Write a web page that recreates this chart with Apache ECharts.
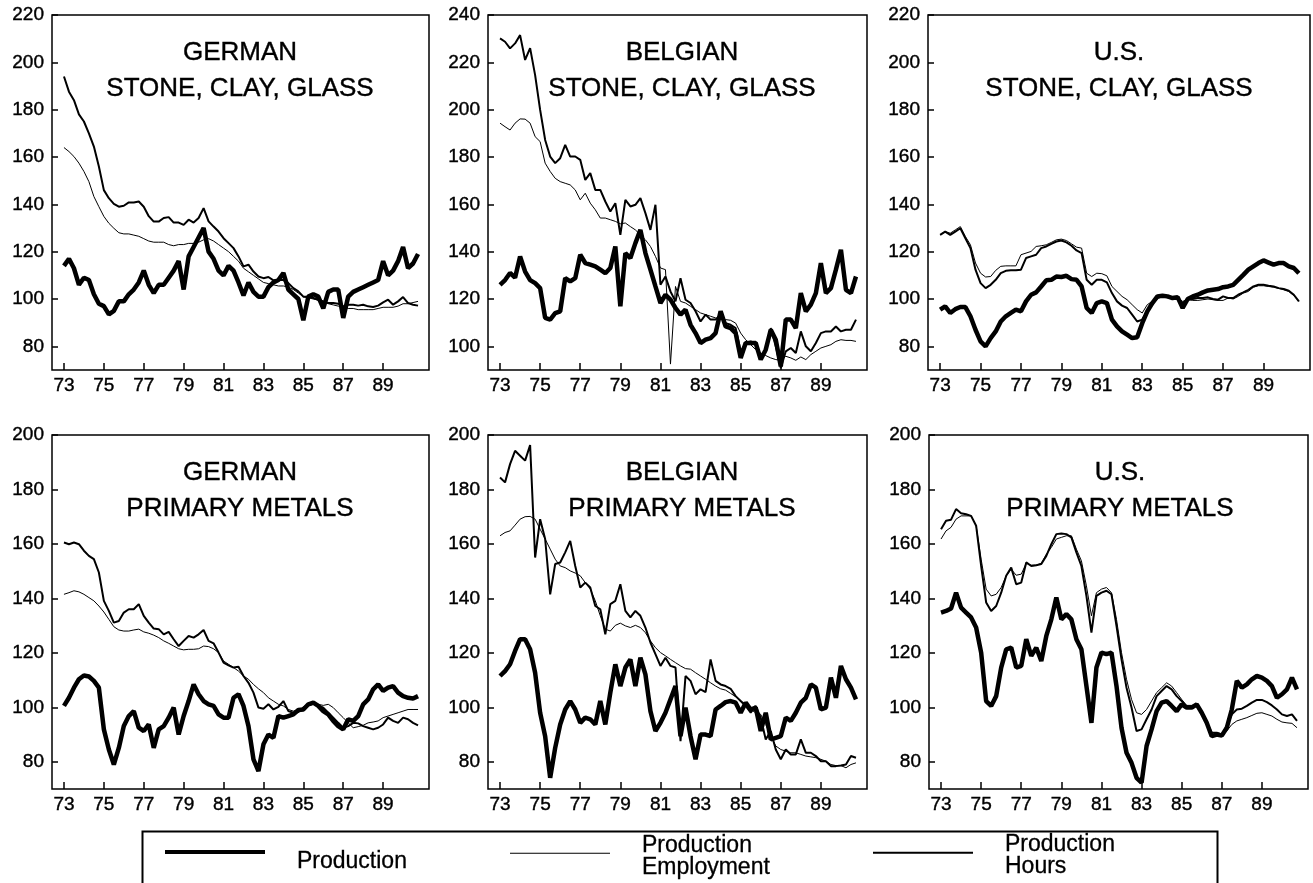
<!DOCTYPE html>
<html>
<head>
<meta charset="utf-8">
<script src="https://cdn.jsdelivr.net/npm/echarts@6/dist/echarts.min.js"></script>
<style>
  html, body { margin: 0; padding: 0; background: #fff; }
  #chart { width: 1313px; height: 883px; }
</style>
</head>
<body>
<div id="chart"></div>
<script>
// quarterly index values, 1973 Q1 .. 1990 Q4 (4 values per row = 1 year)
const gerStoneProd = [
  114, 117, 113, 106,  109, 108, 102, 98,  97, 93.5, 95, 99,  99, 102, 104, 107,
  112, 106, 102.5, 106,  106, 109, 112, 116,  104, 118, 122, 126,  130, 120, 117, 112,
  110, 114, 112, 107,  101.5, 107, 103, 101,  101, 105, 107, 108,  111, 104, 102, 100,
  91, 101, 102, 101,  96, 103, 104, 104,  92, 101, 103, 104,  105, 106, 107, 108,
  116, 110, 112, 116,  122, 113, 115, 119
];
const gerStoneEmp = [
  164, 162.3, 160.2, 157.4,  153.9, 149.6, 143.3, 139,  134.9, 132, 129.9, 128,  127.5, 127.5, 127, 126.5,
  125.5, 124.5, 124, 124,  124, 123, 122.5, 123,  123, 123.5, 123.5, 124,  125, 125.5, 124.5, 123,
  121.5, 120, 118, 116,  113, 111.5, 110, 108.5,  107, 106.5, 106, 105.5,  105.5, 105, 104, 102.5,
  101, 100.5, 100, 99.5,  99, 98, 97.5, 97,  96.5, 96, 96, 95.5,  95.5, 95.5, 95.5, 96,
  96.5, 96.5, 96.5, 97,  98, 98, 98.5, 99
];
const gerStoneHrs = [
  194, 187.6, 184, 178,  175, 170, 164.4, 156,  146, 142.6, 140.2, 139,  139.4, 140.8, 140.8, 141.2,
  139, 135, 132.7, 132.7,  134.2, 134.6, 132.3, 132.3,  131.3, 133.5, 132.3, 134.2,  138.4, 132.8, 130.6, 128.5,
  125.7, 123.6, 121.5, 118,  113.8, 114.5, 111.6, 109.5,  108.8, 109.3, 107.9, 108.1,  108, 106.7, 104.6, 103.2,
  101, 101, 100.4, 99.7,  99, 98.3, 98.3, 98,  96.9, 97.6, 97.6, 97.2,  97.6, 96.9, 96.6, 97.2,
  98.6, 99.7, 97.6, 99,  100.8, 98.3, 97.6, 97.2
];

const belStoneProd = [
  126, 128, 131, 129,  138, 131.6, 128, 126.7,  124.6, 112, 111.3, 114,  114.8, 128.8, 127.4, 128.8,
  138.7, 135.2, 134.5, 133.8,  132.4, 130.9, 133.1, 142.2,  116.9, 139.4, 137.3, 143.6,  149.2, 139.4, 132.4, 125.3,
  118.3, 121.8, 119.7, 116.2,  113.4, 115.5, 109.1, 105.6,  101.4, 102.8, 103.5, 105.6,  114.8, 108.4, 107.7, 105.6,
  95.1, 101.4, 101.4, 101.4,  94.4, 98.6, 107, 102.8,  91.5, 111.3, 111.3, 107.7,  122.5, 114.8, 117.6, 122.5,
  135.2, 122.5, 124.6, 132.4,  140.8, 123.9, 122.5, 129.5
];
const belStoneEmp = [
  194.3, 192.8, 191.4, 194.3,  196.1, 196, 194.3, 188.6,  186.5, 177.4, 173.9, 171,  169.6, 168.9, 168.2, 166.1,
  161.9, 164.7, 160.5, 157.7,  154.2, 154.2, 153.5, 152.8,  151.8, 152.1, 150.6, 149.2,  147.1, 145, 142.2, 138,
  133.1, 132.4, 92.5, 125.3,  119, 118.3, 116.9, 115.5,  114.1, 113.4, 112.7, 112,  111.5, 111.3, 111, 109.8,
  105.6, 102.8, 100.7, 98.6,  97.2, 96.1, 95.1, 94.4,  94.1, 95.8, 95.1, 94.1,  95.5, 94.4, 96.5, 97.9,
  99.3, 100, 100.7, 102.1,  102.8, 102.5, 102.5, 102.1
];
const belStoneHrs = [
  230.1, 228.7, 225.9, 228,  231.5, 221, 226, 214.6,  199.9, 187.2, 180.2, 177.4,  179.5, 185.1, 180.2, 180.2,
  178.8, 170.3, 173.2, 166.1,  166.1, 161.2, 157, 160.5,  147.1, 161.9, 159.1, 159.8,  162.6, 156.3, 149.2, 159.8,
  126, 129.5, 123.2, 119,  128.8, 119.7, 118.3, 114.8,  110.5, 113.4, 111.3, 111.3,  113.4, 109.8, 109.1, 107.7,
  97.9, 101.4, 102.1, 100.7,  95.1, 98.6, 107.7, 100,  90.8, 97.9, 99.3, 97.2,  106.3, 100, 97.9, 101.4,
  105.6, 106.3, 106.3, 108.4,  106.3, 107, 107, 111.3
];

const usStoneProd = [
  95.5, 96.9, 94.1, 95.7,  96.6, 96.6, 92.7, 87,  82.1, 80, 83.5, 86.3,  90.5, 92.7, 94.1, 95.5,
  94.8, 99, 101.8, 102.8,  105.3, 107.9, 108.1, 109.5,  109.3, 109.8, 108.4, 108.1,  105.3, 96.2, 94.1, 98.3,
  99, 98.3, 91.3, 88.4,  86.3, 84.9, 83.5, 83.8,  89.8, 94.8, 98.3, 101.1,  101.4, 101.1, 100.4, 100.8,
  96.2, 100, 101.1, 101.8,  102.8, 103.6, 103.9, 104.2,  105, 105.3, 106, 108.1,  110.2, 112.4, 113.8, 115.2,
  116.3, 115.4, 114.5, 115.2,  115.2, 113.8, 113.1, 110.9
];
const usStoneEmp = [
  127.1, 128.5, 127.8, 129.2,  130.6, 126.4, 122.9, 115.2,  110.9, 109.3, 109.5, 112.1,  113.8, 114, 114, 114,
  118.7, 119.4, 120.1, 122.2,  122.5, 122.9, 123.9, 125,  125.3, 124.7, 123.3, 121.9,  121.5, 110.9, 109.5, 110.9,
  110.7, 109.8, 105.3, 103.2,  101.1, 99.7, 97.6, 95.5,  94.1, 97.6, 99, 100.7,  101.1, 100.8, 100.4, 100.4,
  99, 99.7, 99.4, 99.4,  99.7, 100, 99.7, 99.4,  99.4, 100.4, 100, 101.1,  102.5, 103.2, 105, 105.6,
  105.6, 105.3, 105, 104.5,  103.9, 103.2, 101.4, 99
];
const usStoneHrs = [
  127.1, 128.5, 127.1, 128.5,  129.9, 125.7, 121.5, 112.4,  106.7, 104.6, 106, 108.1,  110.9, 111.9, 112.1, 112.1,
  112.4, 117.3, 118, 118.7,  121.5, 122.2, 123.3, 124.3,  124.7, 123.9, 122.5, 120.5,  119.4, 108.1, 106, 108.1,
  108.1, 107, 102.5, 99,  97.2, 96.2, 93.4, 90.5,  91.3, 94.8, 98, 100.4,  101.1, 100.7, 100.4, 100,
  98.3, 100, 100, 100.4,  100.4, 100.7, 100, 99.7,  101.1, 100.4, 100.4, 101.8,  102.8, 103.9, 105.3, 106,
  106, 105.6, 105.3, 104.6,  104.2, 103.5, 101.8, 99
];

const gerMetalProd = [
  100.5, 103.5, 107.2, 110.3,  111.7, 111.3, 109.7, 107.2,  91.9, 84.5, 79, 85.1,  93.1, 96.8, 98.6, 92.5,
  91.3, 93.7, 85.1, 91.9,  93.1, 96.2, 99.9, 90,  96.8, 102.3, 108.4, 104.8,  102.3, 101.1, 100.5, 97.4,
  96.2, 96.2, 103.5, 104.8,  100.5, 93.1, 80.9, 76.6,  86.4, 90, 88.8, 96.8,  96.2, 96.8, 97.4, 99,
  99.2, 101.1, 101.7, 100.5,  98.6, 97.4, 95, 93.1,  91.9, 95.6, 95, 96.8,  101.1, 102.9, 106.6, 108.4,
  106, 107.2, 107.8, 105.4,  104.1, 103.5, 103.2, 104.1
];
const gerMetalEmp = [
  141.5, 142.1, 142.8, 142.4,  141.5, 140.3, 139.1, 137.2,  135, 132.3, 129.6, 128.4,  128, 128, 128.4, 128.7,
  127.7, 127.2, 126.5, 125.6,  124.4, 123.5, 122.5, 121.5,  121.1, 121.3, 121.3, 121.5,  122.5, 122.3, 121.5, 120.1,
  117, 115.8, 114.6, 113.3,  111.5, 110.3, 108.4, 106.8,  105.4, 103.5, 102.3, 101.1,  100.5, 99.2, 98.6, 99.2,
  99.5, 100.5, 101.1, 101.1,  100.7, 101.1, 99.9, 98,  96.2, 94.3, 92.5, 92.9,  93.4, 94.3, 94.6, 95,
  96.2, 96.8, 97.4, 98,  98.6, 99.2, 99.2, 99.2
];
const gerMetalHrs = [
  160.5, 159.9, 160.5, 159.9,  157.5, 155.6, 154.4, 149.5,  139.1, 135.4, 131.1, 131.7,  134.8, 136, 136, 137.9,
  133.6, 131.1, 128.9, 128.7,  126.8, 127.7, 125, 122.5,  124.4, 126.2, 125.6, 126.8,  128.4, 124.4, 123.5, 120.1,
  116.4, 115.4, 114.6, 114.9,  111.5, 109, 105.4, 99.9,  99.5, 101.1, 99.2, 100.2,  102.3, 98.6, 98, 98.3,
  99.9, 101.1, 101.4, 100.7,  99.9, 98, 96.2, 94.3,  92.5, 93.1, 94.3, 94.1,  93.1, 92.5, 91.9, 92.5,
  93.7, 96.2, 95, 94.3,  96.2, 95.6, 94.3, 93.4
];

const belMetalProd = [
  111.5, 113.3, 115.8, 120.7,  125, 125, 121.3, 112.7,  98, 89.4, 74.1, 85.1,  93.7, 99.2, 102.3, 99.2,
  94.3, 96.2, 95.6, 93.7,  102.3, 93.7, 105.4, 115.8,  107.8, 114.6, 117.6, 107.8,  118.2, 112.1, 98.6, 91.3,
  94.3, 98, 102.9, 107.8,  89.4, 99.9, 89.4, 80.9,  90, 90, 89.4, 99.2,  100.5, 101.9, 102.3, 101.7,
  98, 101.7, 99.2, 99.9,  91.3, 98, 88.2, 88.8,  89.4, 96.2, 95, 98,  101.7, 103.5, 108.4, 107.2,
  99.2, 99.9, 110.9, 103.5,  115.2, 110.3, 107.2, 102.9
];
const belMetalEmp = [
  163, 164.2, 164.8, 166.9,  169.1, 170, 170.1, 169.1,  165.4, 161.8, 158.1, 154.4,  151.9, 151.3, 150.1, 149.3,
  148.3, 145.8, 143.4, 139.1,  133.6, 128.7, 128, 130.1,  130.9, 129.9, 129.3, 130.1,  129.3, 127.4, 124.4, 121.9,
  120.1, 118.9, 117.6, 116.4,  115.2, 114.2, 114, 112.7,  111.5, 110.3, 109, 107.8,  106.8, 106.3, 105.1, 103.9,
  102.3, 101.1, 99.2, 98,  97.4, 93.7, 89.4, 85.8,  84.5, 83.9, 83.3, 83.3,  82.7, 82.1, 81.8, 81.5,
  80.9, 80.2, 79, 78.6,  78.6, 77.8, 79, 79.6
];
const belMetalHrs = [
  184.4, 182.6, 189.3, 194.2,  192.4, 190.6, 196.3, 155,  169.1, 161.8, 141.5, 152.6,  153.2, 156.9, 161.1, 151.9,
  144, 145.8, 144, 137.2,  136, 126.8, 137.9, 139.1,  145.2, 135.4, 133, 135.4,  133.6, 129.3, 123.8, 119.5,
  115.2, 118.2, 115.2, 114.6,  87.6, 111.5, 109.7, 104.8,  106.6, 105.6, 117.6, 109.7,  108.4, 107.8, 106.8, 104.1,
  102.3, 100.5, 98, 100.5,  96.2, 88.2, 91.3, 84.5,  80.9, 84.5, 82.7, 82.7,  88.2, 83.3, 83.3, 82.1,
  80.2, 80.2, 78.4, 78.4,  78.6, 79, 82.1, 81.5
];

const usMetalProd = [
  134.8, 135.4, 136.3, 142.1,  136.6, 134.8, 133, 129.3,  120.1, 102.3, 100.5, 104.1,  114.6, 121.3, 121.9, 114.6,
  115.2, 125, 118.9, 121.9,  117, 126.2, 132.3, 140.3,  132.3, 134.2, 132.3, 125,  121.3, 107.8, 94.3, 114.6,
  120.1, 119.5, 120.1, 107.8,  92.5, 83.3, 79.6, 74.1,  72.3, 85.8, 91.9, 98.6,  101.7, 102.3, 100.5, 98.6,
  101.1, 99.9, 99.9, 101.1,  98, 94.3, 89.4, 90,  89.6, 92.5, 99.2, 109.7,  107.2, 108.4, 110.3, 111.5,
  110.9, 109.7, 107.8, 103.5,  104.8, 106.6, 110.9, 106.6
];
const usMetalEmp = [
  161.8, 164.8, 166.1, 169.1,  170.3, 170.3, 170.3, 166.7,  154.4, 143.4, 140.9, 141.5,  144, 148.3, 150.7, 148.5,
  148.9, 152.9, 152.2, 152.2,  152.9, 156.2, 158.7, 161.8,  162.4, 163, 163, 158.1,  153.8, 144.6, 133.6, 142.1,
  143.4, 144, 142.1, 132.3,  120.1, 110.3, 102.9, 98,  97.4, 99.2, 102.3, 105.4,  107.2, 109, 107.8, 105.4,
  102.9, 100.7, 100.7, 101.1,  98, 94.3, 90, 90,  89.4, 91.3, 93.7, 95,  95.6, 96.2, 97, 97.8,
  98, 97.4, 96.8, 95.6,  94.6, 94.3, 94.1, 92.5
];
const usMetalHrs = [
  165.4, 168.5, 168.9, 172.8,  171.3, 170.9, 170.3, 166.7,  151.9, 138.5, 135.4, 137.2,  142.1, 148.3, 151.3, 145.2,
  145.8, 153.2, 151.9, 152.2,  152.6, 155.6, 159.9, 163.6,  163.8, 163.6, 162.4, 156.9,  151.9, 140.9, 127.4, 140.9,
  142.1, 142.8, 141.5, 129.9,  117.6, 107.2, 99.9, 91.3,  91.9, 95.6, 99.2, 104.1,  106, 107.8, 106.6, 104.1,
  102.3, 100.2, 100.2, 101.1,  98, 94.3, 90.7, 90.7,  90, 93.1, 97.4, 99.2,  99.5, 100.5, 101.7, 102.7,
  102.7, 101.9, 100.7, 99.2,  97.4, 96.8, 97.4, 95
];

const xTicks = [73, 75, 77, 79, 81, 83, 85, 87, 89];
const yTicksA = [80, 100, 120, 140, 160, 180, 200, 220];
const yTicksB = [100, 120, 140, 160, 180, 200, 220, 240];
const yTicksC = [80, 100, 120, 140, 160, 180, 200];

const FONT = "'Liberation Sans', Arial, Helvetica, sans-serif";

// time of each quarter (year, fractional)
const quarters = gerStoneProd.map((_, i) => 73 + i * 0.25);
const pairs = arr => arr.map((v, i) => [quarters[i], v]);

const panels = [
  { title: 'GERMAN\nSTONE, CLAY, GLASS', prod: gerStoneProd, emp: gerStoneEmp, hrs: gerStoneHrs,
    min: 70, max: 220, ticks: yTicksA, left: 52, top: 15, width: 377, height: 355, cx: 240 },
  { title: 'BELGIAN\nSTONE, CLAY, GLASS', prod: belStoneProd, emp: belStoneEmp, hrs: belStoneHrs,
    min: 90, max: 240, ticks: yTicksB, left: 488, top: 15, width: 379, height: 355, cx: 682 },
  { title: 'U.S.\nSTONE, CLAY, GLASS', prod: usStoneProd, emp: usStoneEmp, hrs: usStoneHrs,
    min: 70, max: 220, ticks: yTicksA, left: 928, top: 15, width: 382, height: 355, cx: 1119 },
  { title: 'GERMAN\nPRIMARY METALS', prod: gerMetalProd, emp: gerMetalEmp, hrs: gerMetalHrs,
    min: 70, max: 200, ticks: yTicksC, left: 52, top: 435, width: 377, height: 354, cx: 240 },
  { title: 'BELGIAN\nPRIMARY METALS', prod: belMetalProd, emp: belMetalEmp, hrs: belMetalHrs,
    min: 70, max: 200, ticks: yTicksC, left: 488, top: 435, width: 379, height: 354, cx: 682 },
  { title: 'U.S.\nPRIMARY METALS', prod: usMetalProd, emp: usMetalEmp, hrs: usMetalHrs,
    min: 70, max: 200, ticks: yTicksC, left: 929, top: 435, width: 379, height: 354, cx: 1120 }
];

const chart = echarts.init(document.getElementById('chart'), null, { renderer: 'canvas' });

const labelStyle = { color: '#000', fontSize: 19, fontFamily: FONT, textBorderColor: '#000', textBorderWidth: 0.4 };
const legendText = { fontSize: 23, lineHeight: 22, color: '#000', fontFamily: FONT,
  textBorderColor: '#000', textBorderWidth: 0.3, padding: [0, 0, 0, 27] };

const option = {
  animation: false,
  backgroundColor: '#fff',
  title: panels.map(p => ({
    text: p.title,
    left: p.cx,
    top: p.top + 20,
    textAlign: 'center',
    padding: 0,
    textStyle: { fontSize: 26, lineHeight: 36, fontWeight: 'normal', color: '#000', fontFamily: FONT,
      textBorderColor: '#000', textBorderWidth: 0.4 }
  })),
  grid: panels.map(p => ({
    left: p.left, top: p.top, width: p.width, height: p.height,
    show: true, borderColor: '#000', borderWidth: 1.5, backgroundColor: 'transparent'
  })),
  xAxis: panels.map((p, i) => ({
    type: 'value', gridIndex: i, min: 72.4, max: 91.3,
    splitLine: { show: false },
    axisLine: { show: false },
    axisTick: { show: true, inside: true, length: 7, customValues: xTicks, lineStyle: { color: '#000', width: 1.5 } },
    axisLabel: { customValues: xTicks, margin: 6, formatter: v => String(v), ...labelStyle }
  })),
  yAxis: panels.map((p, i) => ({
    type: 'value', gridIndex: i, min: p.min, max: p.max,
    splitLine: { show: false },
    axisLine: { show: false },
    axisTick: { show: true, inside: true, length: 6, customValues: p.ticks, lineStyle: { color: '#000', width: 1.5 } },
    axisLabel: { customValues: p.ticks, margin: 8, ...labelStyle }
  })),
  // legend icons: a bar at the top of a taller (empty) box, so the label sits lower than the line
  legend: [
    { data: ['Production'], left: 165, top: 850, padding: 0, itemWidth: 100, itemHeight: 24,
      icon: 'path://M0,0H100V4H0Z M0,24H100', selectedMode: false,
      itemStyle: { borderWidth: 0 }, textStyle: legendText },
    { data: ['Production Employment'], left: 510, top: 834, padding: 0, itemWidth: 100, itemHeight: 8,
      icon: 'path://M0,0H100V1H0Z M0,8H100', selectedMode: false,
      itemStyle: { borderWidth: 0 },
      formatter: n => n.replace(' ', '\n'), textStyle: legendText },
    { data: ['Production Hours'], left: 873, top: 833.5, padding: 0, itemWidth: 100, itemHeight: 9,
      icon: 'path://M0,0H100V2H0Z M0,9H100', selectedMode: false,
      itemStyle: { borderWidth: 0 },
      formatter: n => n.replace(' ', '\n'), textStyle: legendText }
  ],
  graphic: [
    { type: 'rect', left: 140, top: 829, shape: { width: 1075, height: 80 },
      style: { fill: 'none', stroke: '#000', lineWidth: 2 }, silent: true }
  ],
  series: []
};

panels.forEach((p, i) => {
  option.series.push(
    { name: 'Production Employment', type: 'line', xAxisIndex: i, yAxisIndex: i, data: pairs(p.emp),
      symbol: 'none', color: '#000', lineStyle: { color: '#000', width: 1 }, z: 2 },
    { name: 'Production Hours', type: 'line', xAxisIndex: i, yAxisIndex: i, data: pairs(p.hrs),
      symbol: 'none', color: '#000', lineStyle: { color: '#000', width: 2 }, z: 3 },
    { name: 'Production', type: 'line', xAxisIndex: i, yAxisIndex: i, data: pairs(p.prod),
      symbol: 'none', color: '#000', lineStyle: { color: '#000', width: 4.5 }, z: 4 }
  );
});

chart.setOption(option);
</script>
</body>
</html>
